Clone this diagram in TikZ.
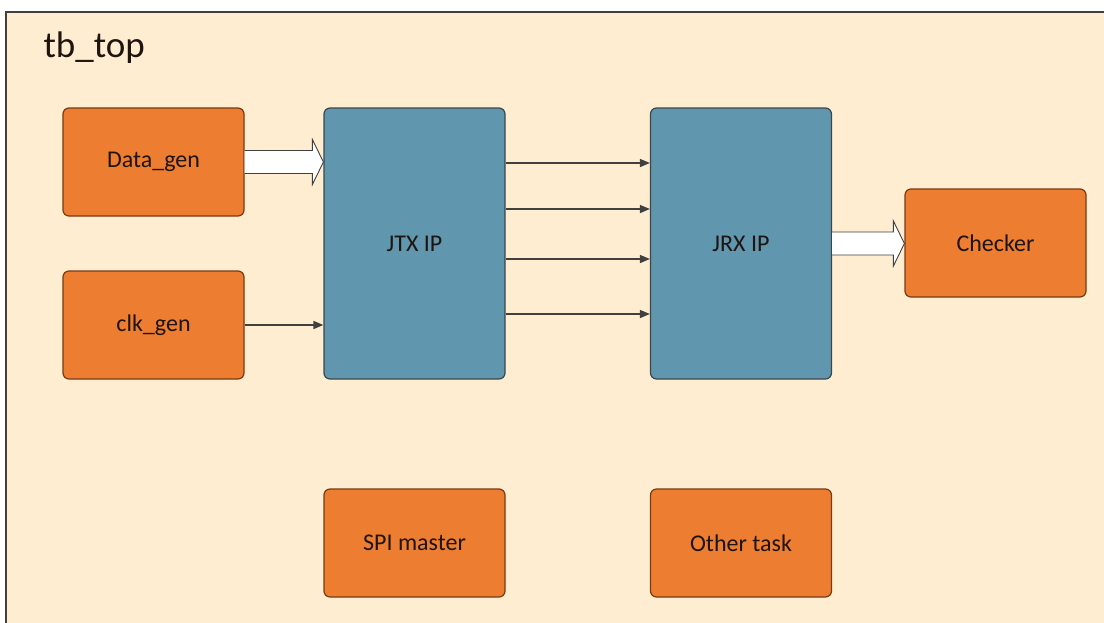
\documentclass[tikz,border=0pt]{standalone}
\usepackage{fontspec}
\setmainfont{Carlito}
\usetikzlibrary{arrows.meta,calc}
\definecolor{bgc}{HTML}{FFEDD2}
\definecolor{orangec}{HTML}{ED7D31}
\definecolor{orangeb}{HTML}{7A3A12}
\definecolor{bluec}{HTML}{6096AE}
\definecolor{blueb}{HTML}{3A474D}
\definecolor{framec}{HTML}{404040}
\definecolor{txt}{HTML}{1E1410}
\tikzset{
  obox/.style={draw=orangeb,fill=orangec,line width=1.2pt,rounded corners=6pt,minimum width=181pt,minimum height=108pt,inner sep=0pt,font=\fontsize{24}{28}\selectfont,text=txt},
  bbox/.style={draw=blueb,fill=bluec,line width=1.2pt,rounded corners=6pt,minimum width=181pt,minimum height=271pt,inner sep=0pt,font=\fontsize{24}{28}\selectfont,text=txt},
  thinarrow/.style={draw=framec,line width=1.5pt,-{Triangle[length=10pt,width=8pt]}},
  fatarrow/.style={draw=framec,fill=white,line width=0.9pt,line join=miter}
}
\begin{document}
\begin{tikzpicture}[x=1pt,y=-1pt]
\useasboundingbox (0,0) rectangle (1104,622);
\fill[white] (0,0) rectangle (1104,622);
\begin{scope}
\clip (0,0) rectangle (1104,622);
\draw[framec,fill=bgc,line width=2pt] (6,12) rectangle (1140,660);
\end{scope}
\node[anchor=west,font=\fontsize{37}{42}\selectfont,text=txt] (title) at (40,48) {tb\_top};

\node[obox] (dg) at (153.5,162) {Data\_gen};
\node[obox] (cg) at (153.5,325) {clk\_gen};
\node[bbox] (jtx) at (414.5,243.5) {JTX IP};
\node[bbox] (jrx) at (741,243.5) {JRX IP};
\node[obox] (chk) at (995.5,243) {Checker};
\node[obox] (spi) at (414.5,543) {SPI master};
\node[obox] (oth) at (741,543) {Other task};

% fat arrows
\coordinate (fa1) at (jtx.west |- dg.east);
\draw[fatarrow] ($(dg.east)+(0,-11.5)$) -- ($(fa1)+(-11,-11.5)$) -- ($(fa1)+(-11,-22.5)$) -- (fa1) -- ($(fa1)+(-11,22.5)$) -- ($(fa1)+(-11,11.5)$) -- ($(dg.east)+(0,11.5)$);
\coordinate (fa2) at (chk.west |- jrx.east);
\draw[fatarrow] ($(jrx.east)+(0,-11.5)$) -- ($(fa2)+(-11,-11.5)$) -- ($(fa2)+(-11,-22.5)$) -- (fa2) -- ($(fa2)+(-11,22.5)$) -- ($(fa2)+(-11,11.5)$) -- ($(jrx.east)+(0,11.5)$);

% thin arrows
\draw[thinarrow] (cg.east) -- (cg.east -| jtx.west);
\foreach \yy/\n in {163/a,209/b,259/c,314/d}{
  \coordinate (s\n) at (505,\yy);
  \draw[thinarrow] (jtx.east |- s\n) -- (jrx.west |- s\n);
}
\end{tikzpicture}
\end{document}
